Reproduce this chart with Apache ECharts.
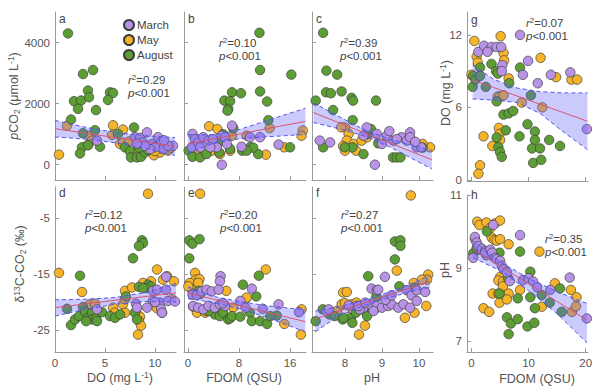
<!DOCTYPE html>
<html><head><meta charset="utf-8">
<script src="https://cdn.jsdelivr.net/npm/echarts@6/dist/echarts.min.js"></script>
<style>html,body{margin:0;padding:0;background:#fff}#c{width:600px;height:392px}</style>
</head><body><div id="c"></div>
<script>
// ---------- data ----------
const months = ['March', 'May', 'August'];
// panel a: DO (mg/L) vs pCO2
const aMar = [[4.2,790],[8.0,900],[8.5,880],[9.2,1060],[8.8,730],[9.7,680],[10.3,900],[10.6,730],[10.8,510],[10.0,570],[11.8,620],[11.3,620],[9.5,510],[9.0,620],[8.2,700],[10.9,800]];
const aMay = [[0.4,330],[1.2,1280],[3.5,950],[3.7,790],[5.8,1290],[5.7,980],[6.8,1150],[6.5,680],[6.8,720],[8.3,510],[9.9,310],[10.5,400],[11.3,460],[10.0,450],[8.5,680],[7.4,760],[3.3,650],[11.6,560]];
const aAug = [[1.3,4300],[2.8,2970],[3.8,3100],[3.3,2430],[1.9,2080],[2.6,2100],[3.4,2210],[2.3,1830],[4.1,1790],[1.6,1480],[5.5,2370],[5.8,2350],[5.3,2120],[2.8,1030],[4.0,1130],[6.3,1010],[7.9,1220],[2.7,570],[2.5,370],[3.3,640],[4.5,590],[7.0,570],[7.5,440],[7.6,240],[8.2,240],[8.6,260],[9.0,400],[9.3,480],[8.4,560]];
// panel b: FDOM vs pCO2
const bMar = [[0.7,1010],[1.1,840],[0.6,570],[1.6,730],[2.4,900],[3.2,790],[3.9,840],[4.5,570],[5.3,950],[5.8,900],[6.9,1280],[5.3,0],[8.4,590],[9.7,900],[11.3,900],[14.2,660],[6.1,680],[1.9,570],[3.5,570]];
const bMay = [[3.3,1260],[4.6,1170],[6.9,950],[9.2,950],[12.8,1200],[18.0,1120],[17.8,950],[12.2,330],[15.1,570],[0.3,460],[1.6,520],[3.7,460],[5.0,350],[6.6,460],[4.0,790]];
const bAug = [[11.2,4320],[11.3,3100],[16.2,2950],[11.3,2400],[12.4,2070],[6.9,2370],[8.3,2340],[5.7,2100],[6.6,2080],[6.3,1830],[6.2,1770],[12.6,1460],[0.1,460],[0.7,260],[1.9,240],[2.9,350],[4.9,400],[6.6,520],[8.5,460],[9.7,570],[11.0,350],[10.2,560],[5.5,1000],[7.1,1190],[16.0,570],[9.2,460],[5.1,780]];
// panel c: pH vs pCO2
const cMar = [[7.32,790],[7.6,730],[8.59,1220],[8.86,1010],[9.13,950],[9.31,790],[9.53,900],[9.67,790],[9.76,1060],[9.76,900],[9.94,570],[10.06,570],[8.81,0],[8.5,950],[9.0,680],[9.4,840],[9.2,1100],[9.9,750]];
const cMay = [[8.0,1220],[8.1,1010],[8.05,790],[8.23,680],[8.45,790],[8.0,460],[8.3,460],[7.9,1230],[10.3,570],[10.4,400],[10.1,680],[7.95,610],[8.6,900]];
const cAug = [[7.41,4320],[7.5,3080],[7.79,2950],[7.49,2370],[7.62,2340],[7.91,2400],[8.18,2190],[8.22,2100],[8.84,2100],[7.21,2100],[7.68,1790],[8.21,1460],[7.41,570],[8.2,570],[8.0,570],[8.5,350],[9.3,240],[9.4,240],[9.5,240],[10.1,560],[8.6,1000],[8.9,700],[8.7,1170]];
// panel g: FDOM vs DO
const gMar = [[1.2,10.6],[2.2,11.1],[3.5,11.0],[4.4,11.0],[5.2,11.0],[2.8,10.6],[5.4,9.5],[5.3,9.0],[8.5,12.0],[9.9,9.85],[9.0,8.7],[11.6,8.0],[13.9,8.7],[17.3,8.9],[20.2,4.2]];
const gMay = [[0.5,11.5],[5.1,11.9],[0.9,10.2],[1.1,9.7],[5.6,10.5],[5.7,9.9],[12.1,10.1],[14.8,8.5],[17.5,8.3],[18.5,8.3],[6.5,8.4],[4.6,6.9],[5.0,6.9],[5.6,7.0],[8.8,6.4],[12.4,6.0],[4.8,4.3],[4.9,3.8],[5.0,3.3],[2.1,3.6],[3.65,2.8],[1.5,1.2],[1.2,0.5],[0.0,8.7]];
const gAug = [[0.2,7.7],[0.3,8.6],[0.7,8.3],[1.5,9.3],[1.5,8.6],[2.5,7.7],[3.5,9.6],[4.3,9.0],[4.6,8.8],[6.6,8.0],[8.5,9.3],[10.4,7.0],[4.4,6.5],[5.6,5.4],[6.5,5.5],[7.3,5.7],[8.4,3.6],[9.8,4.6],[11.1,4.0],[11.1,3.3],[10.6,2.6],[12.0,2.6],[10.8,1.4],[12.2,1.65],[13.6,3.3],[15.5,2.8],[6.0,4.1],[4.4,3.5],[4.7,2.7],[5.0,2.3],[5.3,1.9]];
// panel d: DO vs d13C
const dMar = [[4.2,-21.3],[8.1,-20.3],[8.2,-21.0],[9.8,-18.0],[10.2,-17.8],[11.1,-17.8],[11.1,-15.5],[9.8,-19.8],[10.5,-20.1],[10.6,-21.2],[10.7,-21.9],[11.3,-19.8],[12.0,-19.9],[9.2,-21.0],[10.0,-20.0]];
const dMay = [[9.3,-0.7],[0.4,-14.8],[2.7,-18.2],[10.2,-14.2],[8.8,-16.6],[9.6,-16.3],[10.8,-16.0],[11.2,-15.4],[11.9,-16.3],[7.0,-18.0],[7.7,-17.4],[3.5,-20.4],[4.0,-20.3],[5.8,-21.0],[6.8,-20.4],[7.0,-19.5],[6.0,-21.9],[7.0,-21.9],[8.2,-22.2],[8.5,-22.6],[8.4,-23.4],[8.6,-24.2],[8.3,-25.8],[10.7,-21.9],[11.7,-19.5],[10.2,-21.1]];
const dAug = [[2.5,-15.3],[8.7,-9.0],[8.8,-9.5],[8.4,-10.0],[7.8,-12.2],[9.3,-16.9],[9.6,-17.2],[9.1,-17.5],[8.4,-17.3],[8.8,-17.5],[1.2,-21.2],[1.6,-24.1],[2.0,-23.1],[2.4,-22.5],[2.8,-20.9],[3.0,-21.7],[3.3,-22.8],[3.7,-21.9],[3.7,-23.1],[4.1,-22.9],[4.2,-23.4],[4.7,-21.8],[5.5,-22.5],[6.0,-22.8],[6.5,-22.2],[7.1,-19.0],[8.0,-21.9],[8.2,-23.1],[3.1,-23.4]];
// panel e: FDOM vs d13C
const eMar = [[5.1,-15.4],[5.0,-16.3],[10.0,-17.6],[0.7,-18.7],[1.4,-18.7],[2.1,-18.1],[2.9,-17.8],[3.7,-18.1],[4.8,-17.8],[0.8,-20.7],[1.6,-21.0],[2.4,-21.3],[3.2,-20.7],[4.2,-21.0],[5.0,-20.4],[5.8,-20.7],[8.2,-19.8],[9.0,-21.0],[11.7,-21.2],[14.2,-20.4],[17.4,-21.8],[5.5,-20.2]];
const eMay = [[1.9,-0.7],[1.1,-14.8],[1.2,-16.0],[1.8,-15.9],[0.3,-16.6],[1.6,-16.6],[0.6,-17.8],[0.05,-17.2],[12.2,-14.2],[6.0,-18.0],[7.1,-21.0],[8.9,-19.6],[9.2,-19.2],[17.8,-21.3],[17.7,-25.8],[15.1,-23.9],[1.4,-21.9],[0.8,-20.8],[2.7,-21.9],[2.9,-21.6],[5.3,-20.5]];
const eAug = [[0.2,-9.0],[0.7,-9.6],[1.8,-8.8],[0.2,-12.2],[11.1,-15.3],[8.6,-16.9],[10.7,-19.0],[1.6,-18.0],[1.9,-18.6],[4.2,-22.2],[5.0,-22.5],[5.5,-21.9],[6.3,-23.1],[6.6,-22.9],[6.9,-22.5],[8.2,-22.6],[9.7,-21.9],[10.0,-23.4],[11.3,-23.4],[12.4,-23.9],[13.9,-22.4],[12.9,-22.5],[3.2,-21.6]];
// panel f: pH vs d13C
const fMar = [[9.08,-15.5],[8.72,-17.6],[8.86,-17.9],[9.67,-17.9],[9.8,-18.8],[9.94,-17.9],[10.17,-18.2],[8.31,-20.7],[8.5,-21.0],[8.68,-20.4],[8.86,-20.7],[9.0,-21.0],[9.17,-20.7],[9.26,-20.4],[9.44,-21.0],[9.58,-20.4],[9.76,-21.0],[9.94,-19.8],[8.4,-21.3],[9.1,-19.6],[9.26,-18.8],[7.5,-21.6],[7.56,-21.3],[8.1,-20.6],[8.37,-20.7],[8.55,-20.1],[8.77,-21.6],[8.9,-17.8]];
const fMay = [[9.78,-1.0],[10.25,-15.1],[10.22,-16.0],[10.08,-16.0],[9.86,-16.6],[10.2,-20.7],[9.88,-21.9],[9.62,-22.8],[9.4,-14.4],[8.54,-24.2],[8.38,-25.8],[7.95,-18.3],[8.05,-18.2],[7.78,-21.6],[7.91,-20.4],[8.0,-20.2],[8.18,-20.4],[8.31,-20.1],[8.22,-21.6]];
const fAug = [[9.35,-9.2],[9.5,-9.0],[9.5,-10.0],[9.35,-12.4],[8.63,-15.4],[9.47,-17.2],[9.9,-17.5],[8.85,-19.0],[7.21,-23.4],[7.4,-21.3],[7.58,-22.2],[7.72,-22.5],[7.94,-23.1],[8.16,-22.8],[8.2,-23.7],[7.96,-22.8],[8.3,-21.9],[8.55,-21.6],[8.8,-21.3],[8.6,-22.5]];
// panel h: FDOM vs pH
const hMar = [[3.8,10.18],[8.5,9.9],[17.2,8.74],[20.2,7.62],[0.6,9.85],[0.9,9.7],[1.2,9.6],[1.8,9.53],[2.4,9.47],[2.6,9.35],[0.3,9.28],[2.4,9.42],[3.3,9.5],[3.6,9.42],[4.1,9.28],[4.4,9.24],[5.0,9.2],[5.3,9.06],[5.6,8.97],[6.2,8.88],[6.7,8.64],[9.0,8.67],[10.0,8.72],[10.8,8.63],[11.5,8.47],[13.8,8.4]];
const hMay = [[1.0,10.27],[1.4,10.18],[2.6,10.25],[4.1,10.22],[5.0,10.3],[3.3,10.1],[0.6,9.79],[3.5,9.84],[4.0,9.77],[4.4,9.75],[5.0,9.79],[6.5,9.65],[11.9,9.45],[5.0,8.75],[4.7,8.66],[5.5,8.63],[3.7,8.3],[4.7,8.3],[5.5,8.35],[6.5,8.3],[4.9,8.05],[6.2,8.14],[2.1,7.9],[3.1,7.8],[8.5,8.4],[12.3,7.94],[14.6,8.58],[17.4,8.4],[18.4,8.2],[17.6,7.8],[18.3,7.95],[5.5,8.5]];
const hAug = [[2.7,10.0],[0.3,9.4],[0.9,9.54],[1.5,9.5],[4.9,9.42],[8.5,9.45],[10.3,8.9],[6.4,8.72],[6.2,7.65],[6.9,7.48],[8.1,7.6],[6.5,7.19],[9.8,7.4],[11.0,7.5],[11.1,7.9],[8.1,8.17],[10.3,8.2],[12.3,8.26],[13.7,8.05],[15.8,7.8],[15.5,8.44],[4.9,8.3]];

// regression lines and 95% bands
const fitXa = [0,3,6,9,12], lineA = [1180,1035,890,745,600], hiA = [1450,1230,1060,950,890], loA = [910,840,720,540,300];
const fitXb = [0,4,8,12,18.4], lineB = [680,840,1000,1165,1420], hiB = [980,980,1150,1420,1850], loB = [380,700,850,910,990];
const fitXc = [7.15,7.8,8.5,9.2,10.35], lineC = [1707,1393,1055,717,162], hiC = [2030,1600,1160,840,470], loC = [1380,1190,950,590,-140];
const fitXg = [0.2,4,8,12,16,20.3], lineG = [8.27,7.62,6.94,6.26,5.58,4.85], hiG = [9.5,8.3,7.6,7.3,7.2,7.2], loG = [6.7,6.6,6.4,5.5,4.0,2.5];
const fitXd = [0,3,6,9,12.1], lineD = [-21.0,-20.34,-19.69,-19.03,-18.35], hiD = [-19.6,-19.5,-19.2,-18.3,-16.7], loD = [-22.5,-21.3,-20.4,-19.9,-20.0];
const fitXe = [0,4,8,12,18.4], lineE = [-18.4,-19.5,-20.6,-21.7,-23.5], hiE = [-17.3,-19.0,-19.9,-20.6,-21.4], loE = [-19.4,-20.1,-21.2,-22.6,-25.3];
const fitXf = [7.2,7.8,8.5,9.2,9.8,10.3], lineF = [-23.0,-21.7,-20.2,-18.7,-17.4,-16.3], hiF = [-21.6,-20.9,-19.7,-18.2,-16.7,-15.2], loF = [-25.3,-22.6,-20.7,-19.2,-18.1,-17.4];
const fitXh = [0.3,5,10,15,20.2], lineH = [9.51,9.05,8.57,8.08,7.58], hiH = [9.74,9.17,8.72,8.35,8.03], loH = [9.28,8.93,8.38,7.75,6.95];

// tick values
const doTicks = [0,5,10], fdomTicks = [0,8,16], phTicks = [8,9,10], fdomTicksH = [0,10,20];
const pco2Ticks = [0,2000,4000], d13Ticks = [-25,-15,-5], doTicksG = [0,6,12], phTicksH = [7,9,11];
// statistics
const panelLetters = ['a','b','c','g','d','e','f','h'];
const r2Vals = ['0.29','0.10','0.39','0.07','0.12','0.20','0.27','0.35'];
const pVals = ['<0.001','<0.001','<0.001','<0.001','<0.001','<0.001','<0.001','<0.001'];

// ---------- layout / styles ----------
const FONT = '"Liberation Sans", Arial, sans-serif';
const TXT = '#444';
const TTL = '#555';
const COLORS = {March:'#b892e6', May:'#f6b42a', August:'#5c9e34'};
const panels = [
  {grid:{left:55,top:12,width:121,height:168}, x:[0,12.1], y:[-500,5000], xt:doTicks, yt:pco2Ticks, xl:false, yl:true, d:[aMar,aMay,aAug], f:[fitXa,lineA,hiA,loA]},
  {grid:{left:184,top:12,width:122,height:168}, x:[-0.63,18.5], y:[-500,5000], xt:fdomTicks, yt:pco2Ticks, xl:false, yl:false, d:[bMar,bMay,bAug], f:[fitXb,lineB,hiB,loB]},
  {grid:{left:312,top:12,width:121,height:168}, x:[7.11,10.38], y:[-500,5000], xt:phTicks, yt:pco2Ticks, xl:false, yl:false, d:[cMar,cMay,cAug], f:[fitXc,lineC,hiC,loC]},
  {grid:{left:467,top:12,width:121,height:169}, x:[-0.79,20.4], y:[-0.1,13.9], xt:fdomTicksH, yt:doTicksG, xl:false, yl:true, d:[gMar,gMay,gAug], f:[fitXg,lineG,hiG,loG]},
  {grid:{left:55,top:187,width:121,height:165}, x:[0,12.1], y:[-28.9,0.5], xt:doTicks, yt:d13Ticks, xl:true, yl:true, d:[dMar,dMay,dAug], f:[fitXd,lineD,hiD,loD]},
  {grid:{left:184,top:187,width:122,height:165}, x:[-0.63,18.5], y:[-28.9,0.5], xt:fdomTicks, yt:d13Ticks, xl:true, yl:false, d:[eMar,eMay,eAug], f:[fitXe,lineE,hiE,loE]},
  {grid:{left:312,top:187,width:121,height:165}, x:[7.11,10.38], y:[-28.9,0.5], xt:phTicks, yt:d13Ticks, xl:true, yl:false, d:[fMar,fMay,fAug], f:[fitXf,lineF,hiF,loF]},
  {grid:{left:467,top:195,width:121,height:157}, x:[-0.79,20.4], y:[6.7,11], xt:fdomTicksH, yt:phTicksH, xl:true, yl:true, d:[hMar,hMay,hAug], f:[fitXh,lineH,hiH,loH]}
];
const letterPos = [[59,19],[188,19],[316,19],[471,20],[59,193],[188,193],[316,193],[471,195]];
const statPos = [[128,80],[219,43],[340,43],[526,23],[85,215],[220,215],[341,215],[545,239]];

const axisCommon = (ticks, showLabel) => ({
  type:'value', scale:false,
  axisLine:{show:true, onZero:false, lineStyle:{color:'#9a9a9a', width:1}},
  axisTick:{show:true, inside:true, length:4, customValues:ticks, lineStyle:{color:'#9a9a9a'}},
  axisLabel:{show:showLabel, customValues:ticks, color:'#555', fontSize:11.5, fontFamily:FONT, margin:5,
    formatter:(v) => String(v)},
  splitLine:{show:false}
});

const grids = [], xAxes = [], yAxes = [], series = [];
panels.forEach((p, i) => {
  grids.push(Object.assign({containLabel:false}, p.grid));
  xAxes.push(Object.assign(axisCommon(p.xt, p.xl), {gridIndex:i, min:p.x[0], max:p.x[1]}));
  yAxes.push(Object.assign(axisCommon(p.yt, p.yl), {gridIndex:i, min:p.y[0], max:p.y[1]}));
  [1,2,0].forEach(m => {
    series.push({type:'scatter', name:months[m], xAxisIndex:i, yAxisIndex:i, data:p.d[m], symbolSize:9.5, z:2,
      itemStyle:{color:COLORS[months[m]], borderColor:'#3c3c3c', borderWidth:0.7, opacity:1}, silent:true});
  });
  const [fx, fl, fh, flo] = p.f;
  series.push({type:'custom', xAxisIndex:i, yAxisIndex:i, z:3, silent:true, data:[[fx[0], fl[0]]],
    renderItem:(params, api) => {
      const pts = [];
      for (let k = 0; k < fx.length; k++) pts.push(api.coord([fx[k], fh[k]]));
      for (let k = fx.length - 1; k >= 0; k--) pts.push(api.coord([fx[k], flo[k]]));
      return {type:'polygon', shape:{points:pts}, style:{fill:'rgba(95,95,250,0.33)'}};
    }});
  const mk = (ys) => fx.map((x, k) => [x, ys[k]]);
  series.push({type:'line', xAxisIndex:i, yAxisIndex:i, z:4, data:mk(fh), symbol:'none', silent:true, lineStyle:{color:'#5555ee', width:1, type:[4,3]}});
  series.push({type:'line', xAxisIndex:i, yAxisIndex:i, z:4, data:mk(flo), symbol:'none', silent:true, lineStyle:{color:'#5555ee', width:1, type:[4,3]}});
  series.push({type:'line', xAxisIndex:i, yAxisIndex:i, z:5, data:mk(fl), symbol:'none', silent:true, lineStyle:{color:'#d9566e', width:1}});
});

const rs = (o) => Object.assign({fontFamily:FONT, fontWeight:'normal', fill:TXT, stroke:'none', lineWidth:0}, o);
const rich = {
  i:rs({fontStyle:'italic', fontSize:11.5}),
  n:rs({fontSize:11.5}),
  sup:rs({fontSize:8, padding:[0,0,5,0]}),
  T:rs({fontSize:12.5, fill:TTL}),
  Ti:rs({fontSize:12.5, fontStyle:'italic', fill:TTL}),
  Tsup:rs({fontSize:8.5, fill:TTL, padding:[0,0,6,0]}),
  Tsub:rs({fontSize:8.5, fill:TTL, padding:[5,0,0,0]})
};
const txt = (text, x, y, opts) => Object.assign({type:'text', x, y, silent:true, z:10,
  style:Object.assign({text, rich, fill:TXT, stroke:'none', lineWidth:0, fontWeight:'normal', font:'11.5px ' + FONT, textVerticalAlign:'middle'}, (opts && opts.style) || {})},
  (opts && opts.extra) || {});

const graphics = [];
panelLetters.forEach((l, i) => graphics.push(txt(l, letterPos[i][0], letterPos[i][1])));
r2Vals.forEach((r, i) => {
  const [x, y] = statPos[i];
  graphics.push(txt('{i|r}{sup|2}{n|=' + r + '}', x, y));
  graphics.push(txt('{i|p}{n|' + pVals[i] + '}', x, y + 12.5));
});
const title = (t, x, y, rot) => txt(t, x, y, {style:{textAlign:'center', fill:TTL, font:'12.5px ' + FONT}, extra: rot ? {rotation: Math.PI / 2} : {}});
graphics.push(title('{Ti|p}{T|CO}{Tsub|2}{T| (μmol L}{Tsup|-1}{T|)}', 14, 96, true));
graphics.push(title('{T|δ}{Tsup|13}{T|C-CO}{Tsub|2}{T| (‰)}', 20, 264, true));
graphics.push(title('{T|DO (mg L}{Tsup|-1}{T|)}', 120, 378, false));
graphics.push(title('{T|FDOM (QSU)}', 244, 378, false));
graphics.push(title('{T|pH}', 372, 378, false));
graphics.push(title('{T|FDOM (QSU)}', 537, 379, false));
graphics.push(title('{T|DO (mg L}{Tsup|-1}{T|)}', 446, 93, true));
graphics.push(title('{T|pH}', 445, 270, true));

const chart = echarts.init(document.getElementById('c'), null, {renderer:'svg', width:600, height:392});
chart.setOption({
  animation:false,
  backgroundColor:'#fff',
  textStyle:{fontFamily:FONT},
  grid:grids, xAxis:xAxes, yAxis:yAxes, series,
  legend:{data:months, left:123, top:19, orient:'vertical', itemWidth:10, itemHeight:10, itemGap:3, padding:0,
    icon:'circle', textStyle:{fontSize:11.5, lineHeight:10, color:TXT, fontFamily:FONT, padding:[0,0,0,-2]}, selectedMode:false},
  graphic:graphics
});
</script></body></html>
